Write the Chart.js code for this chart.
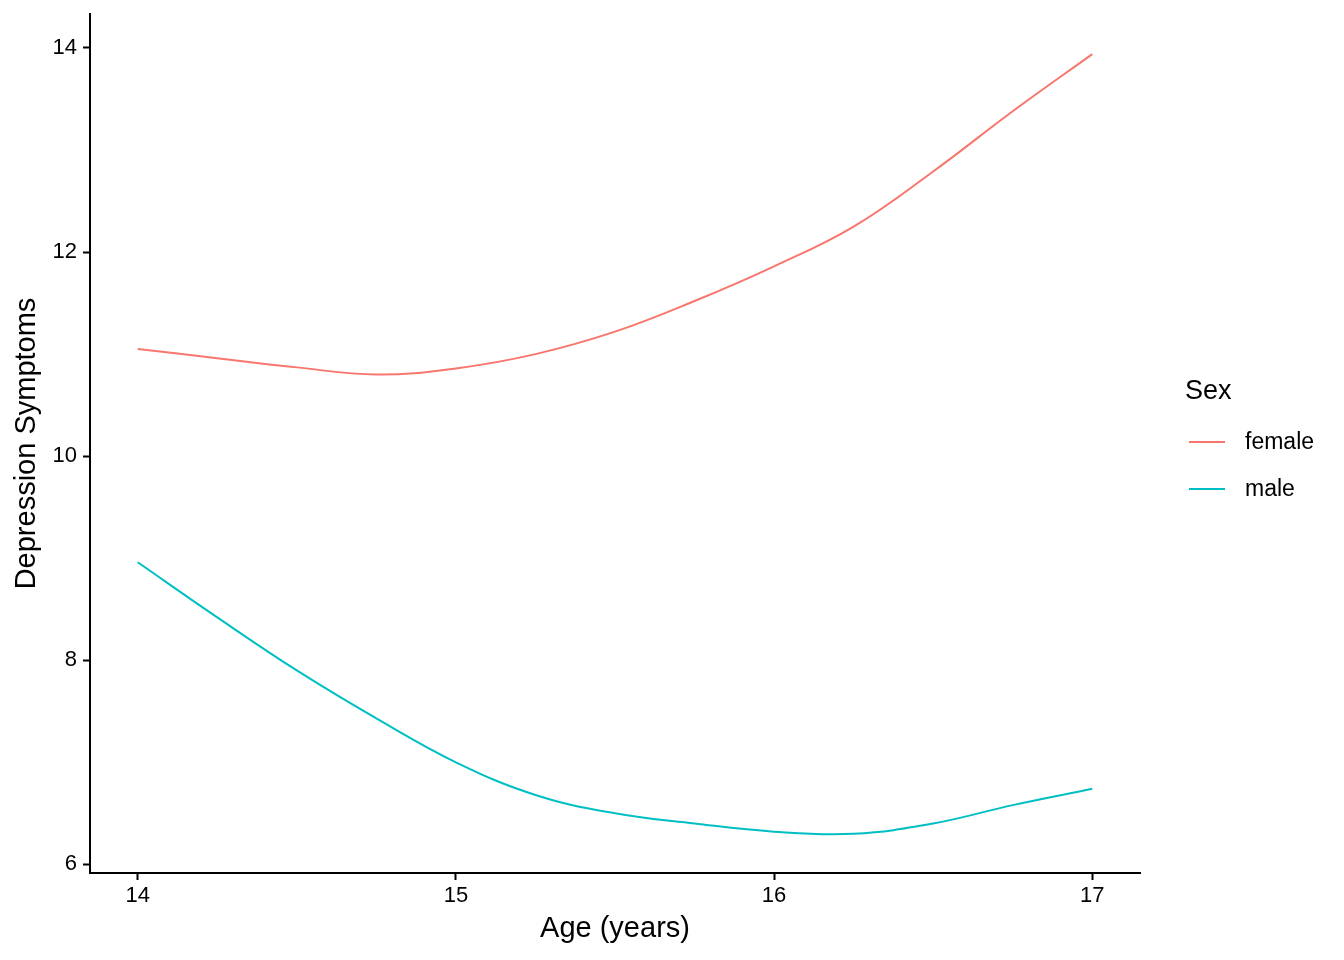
<!DOCTYPE html>
<html>
<head>
<meta charset="utf-8">
<script src="https://cdn.jsdelivr.net/npm/chart.js@4/dist/chart.umd.min.js"></script>
<style>
  body { margin: 0; background: #fff; }
  #wrap { width: 1344px; height: 960px; }
</style>
</head>
<body>
<div id="wrap"><canvas id="chart"></canvas></div>
<script>
// smoothed depression symptoms by age
const ages = [14, 14.25, 14.5, 14.75, 15, 15.25, 15.5, 15.75, 16, 16.25, 16.5, 16.75, 17];
const female = [11.05, 10.96, 10.87, 10.80, 10.86, 11.0, 11.22, 11.52, 11.86, 12.25, 12.79, 13.38, 13.94];
const male = [8.96, 8.42, 7.90, 7.43, 7.0, 6.68, 6.50, 6.40, 6.32, 6.30, 6.40, 6.58, 6.74];
const xTicks = [14, 15, 16, 17];
const yTicks = [6, 8, 10, 12, 14];
const seriesNames = ["female", "male"];
const seriesColors = ["#F8766D", "#00BFC4"];

const fontFamily = '"Liberation Sans", Arial, Helvetica, sans-serif';
Chart.defaults.font.family = fontFamily;

function toPoints(ys) {
    return ages.map((a, i) => ({ x: a, y: ys[i] }));
}

// ggplot-like legend on the right
const sexLegend = {
    id: 'sexLegend',
    afterDraw(chart) {
        const ctx = chart.ctx;
        const left = chart.chartArea.right + 45;
        ctx.save();
        ctx.textBaseline = 'middle';
        ctx.fillStyle = '#000';
        ctx.font = '27px ' + fontFamily;
        ctx.fillText('Sex', left, 392);
        chart.data.datasets.forEach((ds, i) => {
            const y = 442 + i * 47;
            ctx.strokeStyle = ds.borderColor;
            ctx.lineWidth = 2;
            ctx.beginPath();
            ctx.moveTo(left + 4, y);
            ctx.lineTo(left + 40, y);
            ctx.stroke();
            ctx.fillStyle = '#000';
            ctx.font = '23px ' + fontFamily;
            ctx.fillText(ds.label, left + 60, y + 1);
        });
        ctx.restore();
    }
};

new Chart(document.getElementById('chart'), {
    type: 'line',
    data: {
        datasets: [
            { label: seriesNames[0], data: toPoints(female), borderColor: seriesColors[0], borderWidth: 2, pointRadius: 0, fill: false, tension: 0.4 },
            { label: seriesNames[1], data: toPoints(male), borderColor: seriesColors[1], borderWidth: 2, pointRadius: 0, fill: false, tension: 0.4 }
        ]
    },
    options: {
        responsive: true,
        maintainAspectRatio: false,
        animation: false,
        layout: { padding: { top: 14, right: 204, left: 0, bottom: 0 } },
        plugins: { legend: { display: false }, tooltip: { enabled: false } },
        scales: {
            x: {
                type: 'linear',
                min: 13.85,
                max: 17.15,
                afterBuildTicks: s => { s.ticks = xTicks.map(v => ({ value: v })); },
                afterFit: s => { s.height = 87; s.paddingLeft = 0; s.paddingRight = 0; },
                border: { color: '#000', width: 2 },
                grid: { drawOnChartArea: false, drawTicks: true, tickLength: 7, tickWidth: 2, color: '#000' },
                ticks: { color: '#000', font: { size: 22 }, padding: 3, maxRotation: 0 },
                title: { display: true, text: 'Age (years)', color: '#000', font: { size: 29 }, padding: { top: 0, bottom: 14 } }
            },
            y: {
                type: 'linear',
                min: 5.915,
                max: 14.333,
                afterBuildTicks: s => { s.ticks = yTicks.map(v => ({ value: v })); },
                afterFit: s => { s.width = 90; s.paddingTop = 0; s.paddingBottom = 0; },
                border: { color: '#000', width: 2 },
                grid: { drawOnChartArea: false, drawTicks: true, tickLength: 7, tickWidth: 2, color: '#000' },
                ticks: { color: '#000', font: { size: 22 }, padding: 6 },
                title: { display: true, text: 'Depression Symptoms', color: '#000', font: { size: 29 }, padding: { top: 10, bottom: 0 } }
            }
        }
    },
    plugins: [sexLegend]
});
</script>
</body>
</html>
